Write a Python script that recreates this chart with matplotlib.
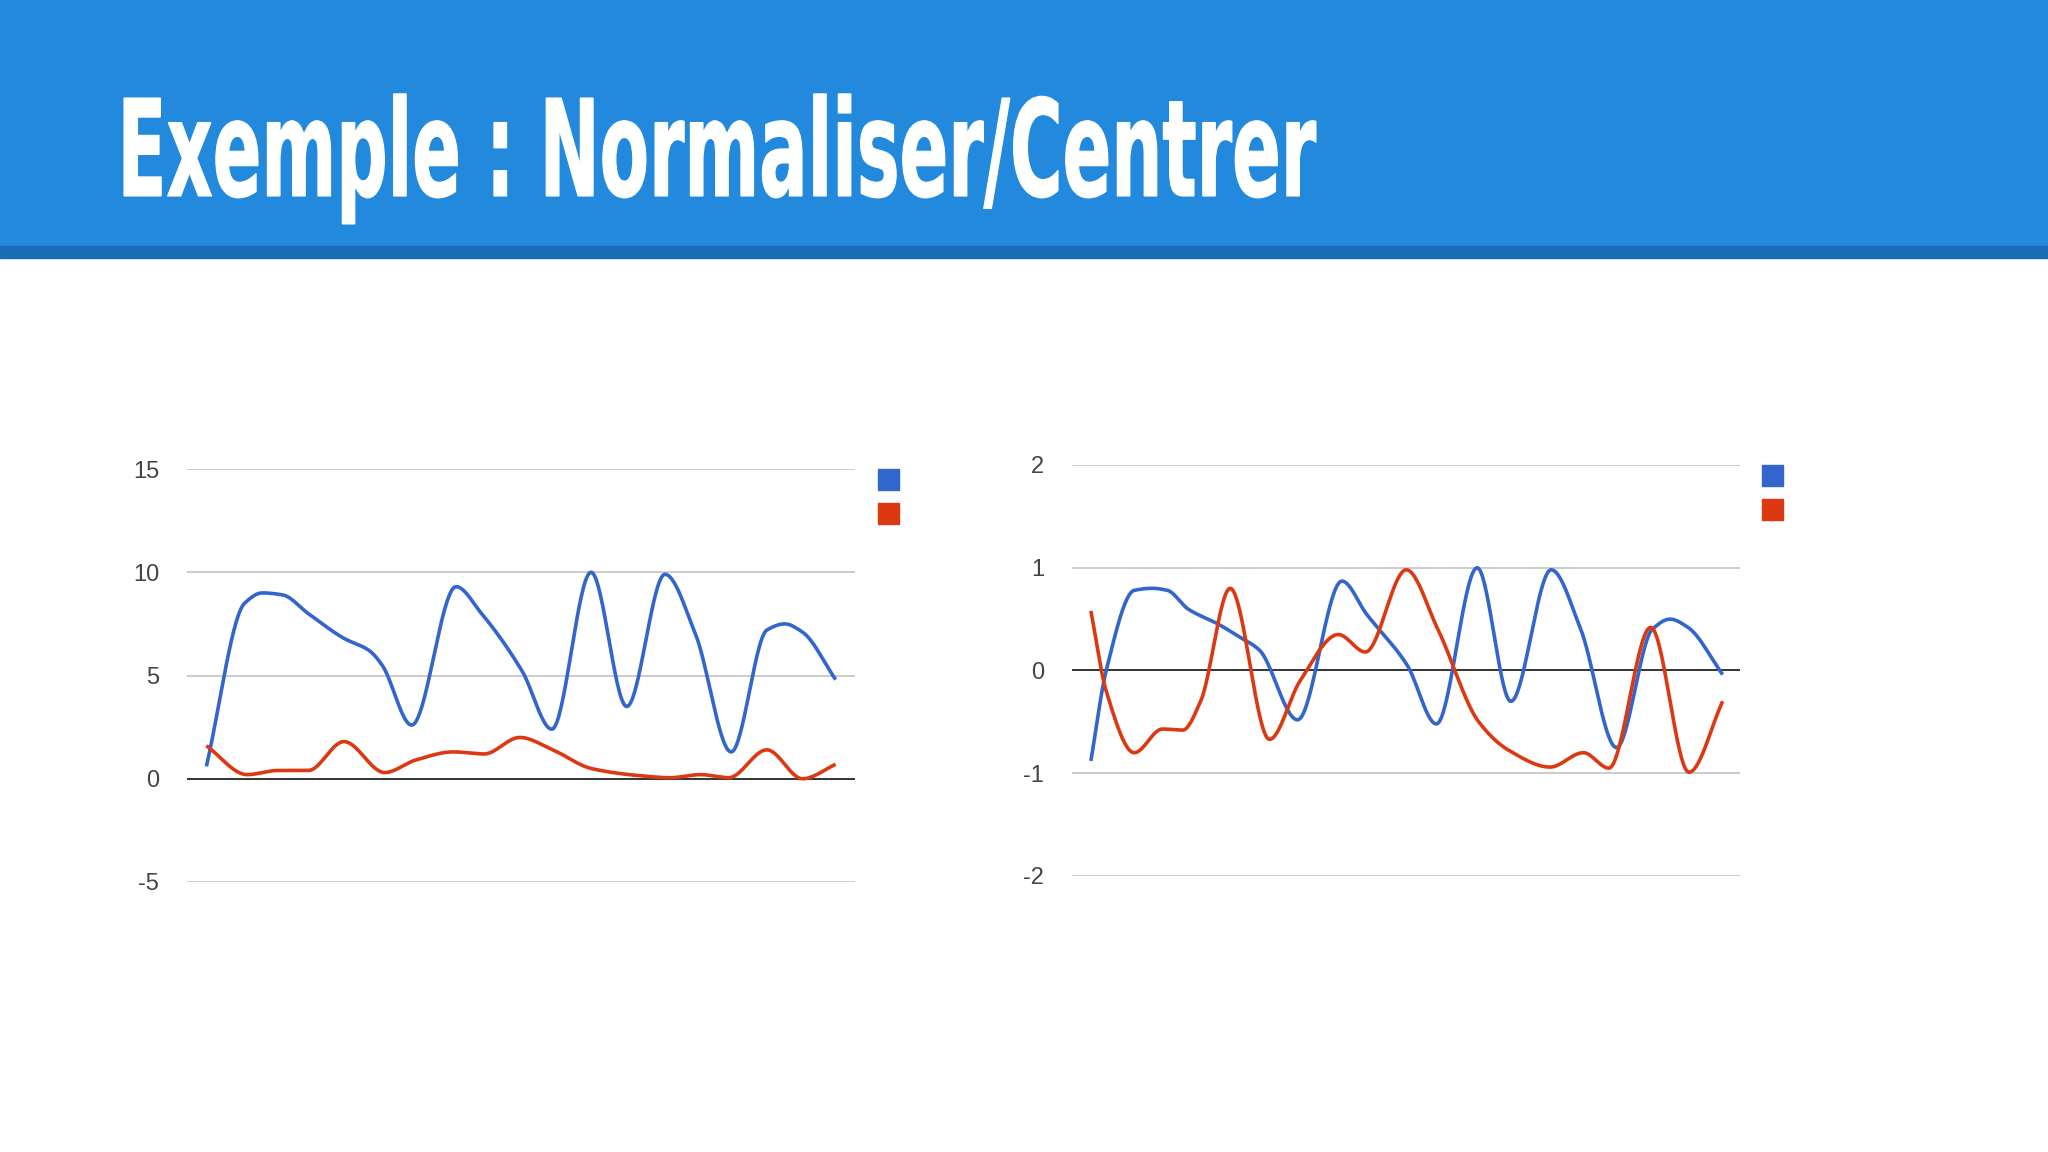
import numpy as np
import matplotlib
matplotlib.use("Agg")
import matplotlib.pyplot as plt
from matplotlib.patches import Rectangle, PathPatch
from matplotlib.textpath import TextPath
from matplotlib.font_manager import FontProperties
from matplotlib.transforms import Affine2D, IdentityTransform

title = "Exemple : Normaliser/Centrer"

# Left chart (raw)
left_blue_x = [150, 225, 260, 300, 350, 420, 470, 495, 553, 640, 690, 770, 828, 905, 975, 1050, 1110, 1180, 1250, 1285, 1320, 1385]
left_blue_y = [0.6, 8.5, 9.0, 8.9, 8.0, 6.8, 6.2, 5.5, 2.6, 9.3, 8.0, 5.2, 2.4, 10.0, 3.5, 9.9, 7.0, 1.3, 7.2, 7.5, 7.1, 4.8]
left_red_x = [150, 230, 290, 350, 420, 500, 560, 635, 695, 765, 830, 905, 1000, 1060, 1120, 1175, 1250, 1320, 1385]
left_red_y = [1.6, 0.2, 0.4, 0.4, 1.8, 0.3, 0.9, 1.3, 1.2, 2.0, 1.4, 0.5, 0.15, 0.05, 0.2, 0.05, 1.4, 0.0, 0.7]
left_ticks = [-5, 0, 5, 10, 15]

# Right chart (normalised / centred)
right_blue_x = [140, 170, 225, 260, 290, 330, 390, 430, 470, 545, 632, 680, 760, 817, 897, 963, 1042, 1100, 1170, 1240, 1275, 1310, 1378]
right_blue_y = [-0.88, 0.0, 0.78, 0.8, 0.78, 0.6, 0.45, 0.33, 0.2, -0.48, 0.87, 0.55, 0.05, -0.52, 1.0, -0.3, 0.98, 0.4, -0.75, 0.4, 0.5, 0.42, -0.04]
right_red_x = [140, 170, 225, 280, 320, 355, 413, 490, 550, 625, 678, 758, 820, 900, 960, 1040, 1105, 1155, 1237, 1312, 1378]
right_red_y = [0.58, -0.2, -0.8, -0.57, -0.58, -0.3, 0.8, -0.67, -0.1, 0.35, 0.18, 0.98, 0.4, -0.5, -0.78, -0.94, -0.8, -0.95, 0.42, -0.99, -0.3]
right_ticks = [-2, -1, 0, 1, 2]

BLUE = "#3366cc"
RED = "#dc3912"


def pchip(x, y, n=600):
    x = np.asarray(x, float); y = np.asarray(y, float)
    h = np.diff(x); d = np.diff(y) / h
    m = np.zeros_like(y)
    for k in range(1, len(x) - 1):
        if d[k - 1] * d[k] > 0:
            w1 = 2 * h[k] + h[k - 1]; w2 = h[k] + 2 * h[k - 1]
            m[k] = (w1 + w2) / (w1 / d[k - 1] + w2 / d[k])
    m[0] = d[0]; m[-1] = d[-1]
    xs = np.linspace(x[0], x[-1], n)
    idx = np.clip(np.searchsorted(x, xs) - 1, 0, len(h) - 1)
    t = (xs - x[idx]) / h[idx]
    h00 = 2*t**3 - 3*t**2 + 1; h10 = t**3 - 2*t**2 + t
    h01 = -2*t**3 + 3*t**2; h11 = t**3 - t**2
    ys = h00*y[idx] + h10*h[idx]*m[idx] + h01*y[idx+1] + h11*h[idx]*m[idx+1]
    return xs, ys


W, H = 2048, 1152
fig = plt.figure(figsize=(20.48, 11.52), dpi=100)
fig.patch.set_facecolor("white")

# header band
fig.add_artist(Rectangle((0, 1 - 246/H), 1, 246/H, transform=fig.transFigure, color="#2389dc", zorder=0))
fig.add_artist(Rectangle((0, 1 - 258/H), 1, 12/H, transform=fig.transFigure, color="#1a6bb8", zorder=0))

# condensed title: real text, horizontally compressed
fp = FontProperties(family="DejaVu Sans", weight="bold")
tp = TextPath((0, 0), title, size=100, prop=fp)
bb = tp.get_extents()
cap = TextPath((0, 0), "E", size=100, prop=fp).get_extents().height
sy = 98 / cap
sx = (1316 - 124) / bb.width
tr = Affine2D().translate(-bb.x0, 0).scale(sx, sy).translate(124, H - 196)
fig.add_artist(PathPatch(tr.transform_path(tp), transform=IdentityTransform(),
                         facecolor="white", edgecolor="white", lw=0.8, zorder=5))
fig.text(124/W, 1 - 196/H, title, color="white", alpha=0.0, fontsize=10)


def make(rect, bx, by, rx, ry, ticks, xlim, leg):
    ax = fig.add_axes(rect)
    bxs, bys = pchip(bx, by)
    rxs, rys = pchip(rx, ry)
    ax.plot(bxs, bys, color=BLUE, lw=2.6, zorder=3, solid_capstyle="butt")
    ax.plot(rxs, rys, color=RED, lw=2.6, zorder=3, solid_capstyle="butt")
    ax.set_xlim(*xlim)
    ax.set_ylim(ticks[0], ticks[-1])
    ax.set_yticks(ticks)
    ax.set_yticklabels([str(t) for t in ticks])
    ax.set_xticks([])
    for t in ticks:
        ax.axhline(t, color="#333333" if t == 0 else "#cccccc", lw=1.4, zorder=1 if t else 2)
    for s in ax.spines.values():
        s.set_visible(False)
    ax.tick_params(axis="y", length=0, pad=20, labelsize=15, labelcolor="#444444")
    for lab in ax.get_yticklabels():
        lab.set_family("Liberation Sans")
        lab.set_fontsize(17)
    ax.patch.set_alpha(0)
    for (lx, ly), c in zip(leg, [BLUE, RED]):
        fig.add_artist(Rectangle((lx/W, 1 - (ly + 21)/H), 21/W, 21/H,
                                 transform=fig.transFigure, color=c))
    return ax


make([187/W, 1 - 882/H, 668/W, 413/H], left_blue_x, left_blue_y, left_red_x, left_red_y,
     left_ticks, (112, 1423), [(878, 469), (878, 503)])
make([1072/W, 1 - 876/H, 668/W, 411/H], right_blue_x, right_blue_y, right_red_x, right_red_y,
     right_ticks, (103, 1412), [(1762, 465), (1762, 499)])

fig.savefig("out.png", dpi=100)
